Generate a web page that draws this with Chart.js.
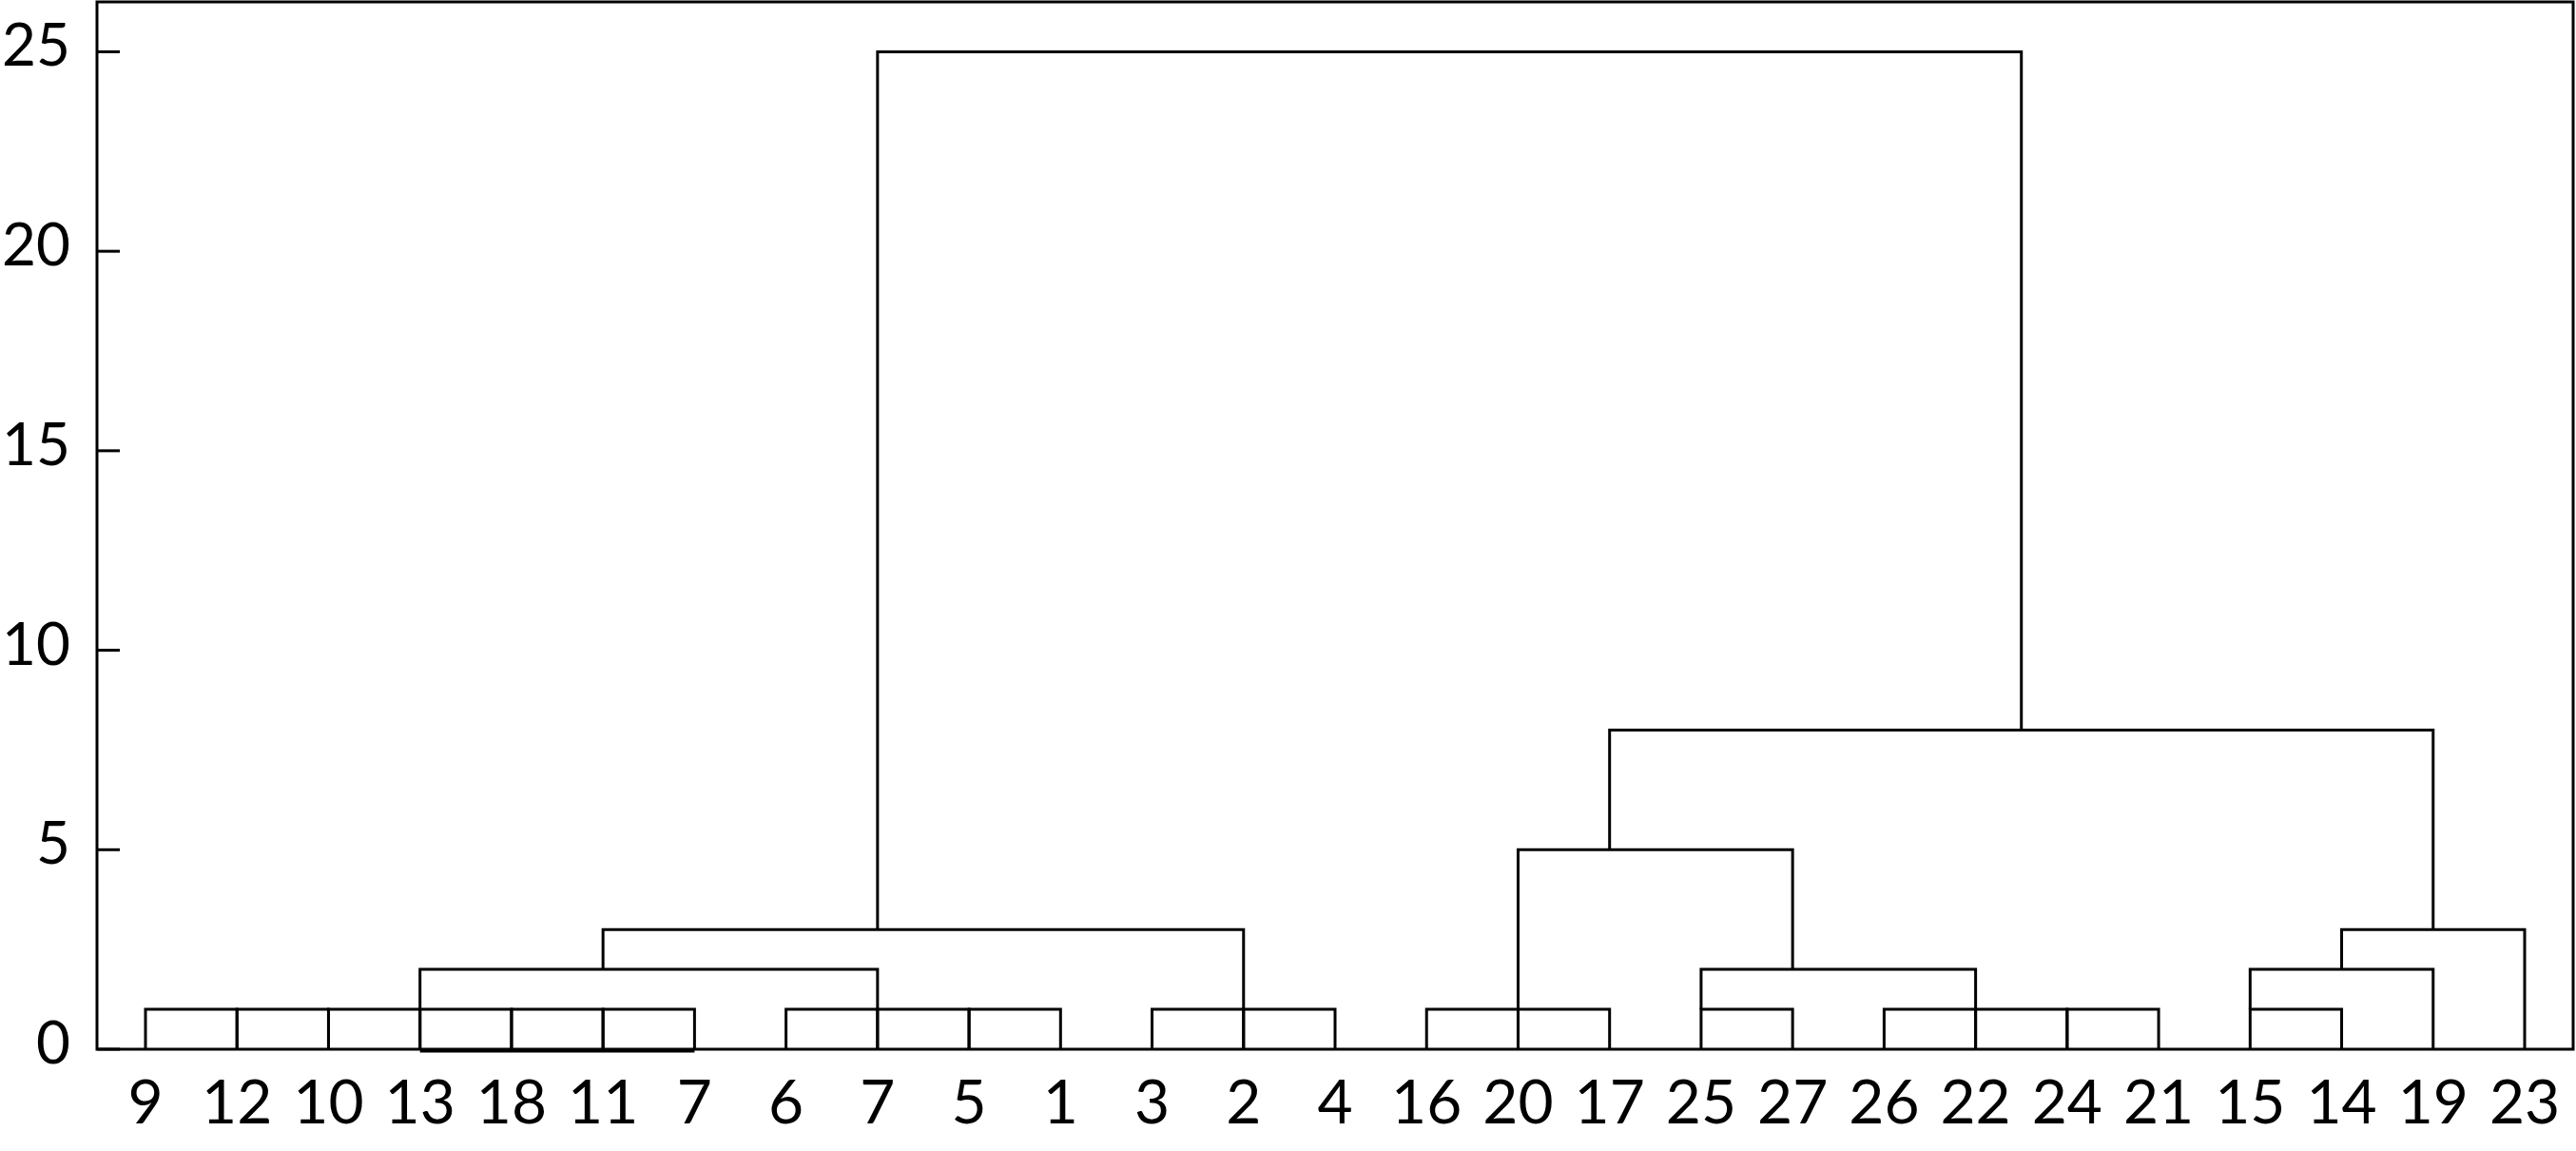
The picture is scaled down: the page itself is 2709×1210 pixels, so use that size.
<!DOCTYPE html>
<html><head><meta charset="utf-8">
<script src="https://cdn.jsdelivr.net/npm/chart.js@4.4.0/dist/chart.umd.min.js"></script>
<style>html,body{margin:0;padding:0;background:#fff;} #wrap{width:2709px;height:1210px;}</style>
</head><body><div id="wrap"><canvas id="c" width="2709" height="1210"></canvas></div>
<script>
// leaf labels in display order
const leafLabels = ['9','12','10','13','18','11','7','6','7','5','1','3','2','4','16','20','17','25','27','26','22','24','21','15','14','19','23'];
const yTickValues = [0, 5, 10, 15, 20, 25];
// links: [left leaf position, right leaf position, merge height, left child height, right child height]
const links = [
  [0,1,1,0,0],[1,2,1,0,0],[2,3,1,0,0],[3,4,1,0,0],[4,5,1,0,0],[5,6,1,0,0],
  [7,8,1,0,0],[8,9,1,0,0],[9,10,1,0,0],
  [11,12,1,0,0],[12,13,1,0,0],
  [3,8,2,1,1],
  [5,12,3,2,1],
  [14,15,1,0,0],[15,16,1,0,0],
  [17,18,1,0,0],
  [19,20,1,0,0],[20,21,1,0,0],[21,22,1,0,0],
  [17,20,2,1,1],
  [15,18,5,1,2],
  [23,24,1,0,0],
  [23,25,2,1,0],
  [24,26,3,2,0],
  [16,25,8,5,3],
  [8,20.5,25,3,8]
];
// slightly lowered base segment under leaves 13..7
const baseSegments = [[3,6,-0.05]];

const datasets = links.map(([l, r, h, lf, rf]) => ({
  data: [{x:l,y:lf},{x:l,y:h},{x:r,y:h},{x:r,y:rf}],
  showLine: true, borderColor:'#000', borderWidth:3, pointRadius:0, tension:0,
  borderJoinStyle:'miter', borderCapStyle:'butt', clip:false, fill:false
}));
baseSegments.forEach(([l, r, y]) => datasets.push({
  data:[{x:l,y:y},{x:r,y:y}], showLine:true, borderColor:'#000', borderWidth:3,
  pointRadius:0, clip:false, fill:false
}));

const framePlugin = {
  id:'frame',
  afterDatasetsDraw(chart){
    const {ctx, chartArea:a, scales:{y}} = chart;
    ctx.save();
    ctx.strokeStyle = '#000'; ctx.lineWidth = 3;
    ctx.strokeRect(a.left, a.top, a.right - a.left, a.bottom - a.top);
    y.ticks.forEach(t => {
      const py = y.getPixelForValue(t.value);
      ctx.beginPath(); ctx.moveTo(a.left, py); ctx.lineTo(a.left + 24, py); ctx.stroke();
    });
    ctx.restore();
  }
};

const noPad = s => { s.paddingTop = 0; s.paddingBottom = 0; s.paddingLeft = 0; s.paddingRight = 0; };

new Chart(document.getElementById('c'), {
  type: 'scatter',
  data: { datasets },
  options: {
    responsive:false, animation:false, devicePixelRatio:1,
    layout:{ padding:{ top:2, right:3, left:0, bottom:0 } },
    plugins:{ legend:{display:false}, tooltip:{enabled:false} },
    scales:{
      x:{
        type:'linear', min:-0.53, max:26.53,
        grid:{display:false}, border:{display:false},
        afterBuildTicks: axis => { axis.ticks = leafLabels.map((_, i) => ({value:i})); },
        afterFit: s => { s.height = 107; noPad(s); },
        ticks:{ autoSkip:false, maxRotation:0, padding:11, color:'#000',
          font:{family:'Lato', size:64},
          callback:(v) => leafLabels[v] }
      },
      y:{
        type:'linear', min:0, max:26.25,
        grid:{display:false}, border:{display:false},
        afterBuildTicks: axis => { axis.ticks = yTickValues.map(v => ({value:v})); },
        afterFit: s => { s.width = 102; noPad(s); },
        ticks:{ padding:20, color:'#000', labelOffset:-5,
          font:{family:'Lato', size:62} }
      }
    }
  },
  plugins:[framePlugin]
});
</script></body></html>
